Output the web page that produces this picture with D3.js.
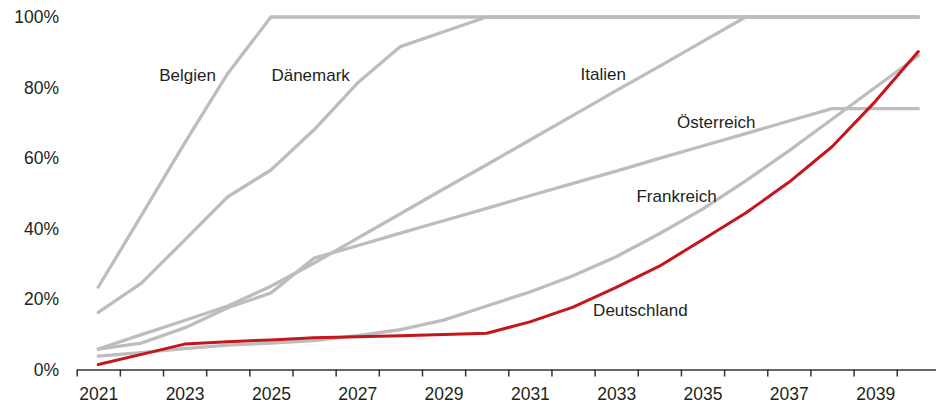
<!DOCTYPE html>
<html>
<head>
<meta charset="utf-8">
<script src="https://cdn.jsdelivr.net/npm/d3@7/dist/d3.min.js"></script>
<style>
  html, body { margin: 0; padding: 0; background: #fff; }
  svg { display: block; }
  text { font-family: "Liberation Sans", Arial, Helvetica, sans-serif; fill: #231f20; }
</style>
</head>
<body>
<svg id="chart" width="936" height="403"></svg>
<script>
// ---- data ----
const years = d3.range(2021, 2041);
const yTicks = [0, 20, 40, 60, 80, 100];
const xTickLabels = [2021, 2023, 2025, 2027, 2029, 2031, 2033, 2035, 2037, 2039];

const belgien     = [23.4, 43.7, 64.2, 84, 100, 100, 100, 100, 100, 100, 100, 100, 100, 100, 100, 100, 100, 100, 100, 100];
const daenemark   = [16.2, 24.5, 36.7, 49, 56.6, 68, 81.2, 91.6, 95.8, 100, 100, 100, 100, 100, 100, 100, 100, 100, 100, 100];
const italien     = [5.8, 9.9, 13.9, 18, 23.6, 30.2, 37.2, 44.2, 51.2, 58.1, 65.1, 72.1, 79.1, 86, 93, 100, 100, 100, 100, 100];
const oesterreich = [5.8, 7.5, 11.8, 17.5, 21.7, 31.6, 35.1, 38.7, 42.2, 45.7, 49.3, 52.8, 56.3, 59.9, 63.4, 66.9, 70.5, 74, 74, 74];
const frankreich  = [3.8, 4.8, 5.9, 6.9, 7.5, 8.2, 9.6, 11.3, 14, 18, 22, 26.6, 32, 38.5, 45.5, 53.5, 62, 71, 80, 89];
const deutschland = [1.4, 4.3, 7.2, 7.9, 8.4, 9.0, 9.3, 9.6, 9.9, 10.3, 13.5, 17.7, 23.3, 29.3, 36.8, 44.4, 53.1, 63.2, 76, 90.2];

const seriesNames = ["Belgien", "Dänemark", "Italien", "Österreich", "Frankreich", "Deutschland"];
const seriesValues = [belgien, daenemark, italien, oesterreich, frankreich, deutschland];
const highlighted = "Deutschland";

// label anchors in data space (year, percent)
const labelYears  = [2023.07, 2025.92, 2032.7, 2035.32, 2034.4, 2033.56];
const labelValues = [81.8, 81.8, 82.0, 68.4, 47.6, 15.2];

// ---- chart ----
const svg = d3.select("#chart");
const x = d3.scaleLinear().domain([2020.5, 2040.5]).range([76.7, 939.9]);
const y = d3.scaleLinear().domain([0, 100]).range([369.5, 17]);

const line = d3.line()
  .x((d, i) => x(years[i]))
  .y(d => y(d));

const series = seriesNames.map((name, i) => ({ name, values: seriesValues[i] }));

// gray lines first, highlighted on top
const ordered = series.filter(s => s.name !== highlighted).concat(series.filter(s => s.name === highlighted));

svg.append("g").selectAll("path")
  .data(ordered)
  .join("path")
  .attr("d", d => line(d.values))
  .attr("fill", "none")
  .attr("stroke", d => d.name === highlighted ? "#c4161c" : "#bdbdbd")
  .attr("stroke-width", d => d.name === highlighted ? 3 : 3.3)
  .attr("stroke-linecap", "round")
  .attr("stroke-linejoin", "round");

// x axis: tick marks at year boundaries
const xAxisTicks = d3.axisBottom(x)
  .tickValues(years.map(yr => yr - 0.5))
  .tickSize(7)
  .tickSizeOuter(0)
  .tickFormat("");
const gx = svg.append("g").attr("transform", `translate(0,${y(0)})`).call(xAxisTicks);
gx.select(".domain").attr("stroke", "#333").attr("stroke-width", 1.5);
gx.selectAll(".tick line").attr("stroke", "#333").attr("stroke-width", 1.5);

// x axis labels at odd years
const xAxisLabels = d3.axisBottom(x)
  .tickValues(xTickLabels)
  .tickSize(0)
  .tickPadding(0)
  .tickFormat(d3.format("d"));
const gxl = svg.append("g").attr("transform", `translate(0,${y(0)})`).call(xAxisLabels);
gxl.select(".domain").remove();
gxl.selectAll(".tick text")
  .attr("y", 30.5)
  .attr("dy", 0)
  .attr("font-size", "17.5px")
  .attr("fill", "#231f20");

// y axis labels only
const yAxis = d3.axisLeft(y)
  .tickValues(yTicks)
  .tickSize(0)
  .tickPadding(0)
  .tickFormat(d => d + "%");
const gy = svg.append("g").attr("transform", "translate(59,0)").call(yAxis);
gy.select(".domain").remove();
gy.selectAll(".tick text")
  .attr("font-size", "17.5px")
  .attr("fill", "#231f20");

// series labels
svg.append("g").selectAll("text")
  .data(seriesNames)
  .join("text")
  .attr("x", (d, i) => x(labelYears[i]))
  .attr("y", (d, i) => y(labelValues[i]))
  .attr("text-anchor", "middle")
  .attr("font-size", "17px")
  .text(d => d);
</script>
</body>
</html>
